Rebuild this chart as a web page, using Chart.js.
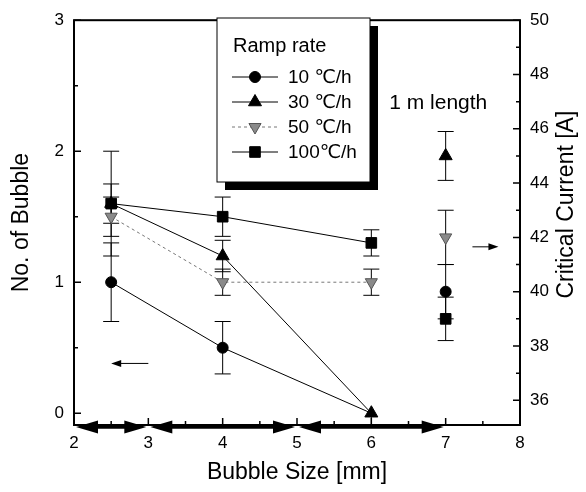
<!DOCTYPE html>
<html>
<head>
<meta charset="utf-8">
<script src="https://cdn.jsdelivr.net/npm/chart.js@4.4.0/dist/chart.umd.min.js"></script>
<style>
  html, body { margin: 0; background: #fff; }
  #wrap { width: 586px; height: 492px; }
</style>
</head>
<body>
<div id="wrap"><canvas id="chart"></canvas></div>
<script>
// bubble size vs number of bubbles (left axis)
const bubbleSize = [2.5, 4, 6];
const bubble10 = [1.0, 0.5, 0];
const bubble30 = [1.6, 1.2, 0];
const bubble50 = [1.5, 1.0, 1.0];
const bubble100 = [1.6, 1.5, 1.3];
const err10 = [0.3, 0.2, 0];
const err30 = [0.15, 0.12, 0];
const err50 = [0.15, 0.1, 0.1];
const err100 = [0.4, 0.15, 0.1];

// 1 m length sample, critical current (right axis), order 10/30/50/100
const lengthX = 7;
const current = [40, 45, 42, 39];
const currentErr = [1, 0.9, 1, 0.8];

const rampLabels = ['10 ℃/h', '30 ℃/h', '50 ℃/h', '100℃/h'];
const leftTicks = [0, 1, 2, 3];
const rightTicks = [36, 38, 40, 42, 44, 46, 48, 50];
const xTicks = [2, 3, 4, 5, 6, 7, 8];
const sizeRanges = [[2, 3], [3, 5], [5, 7]];

const FONT = "'Liberation Sans', Arial, 'DejaVu Sans', sans-serif";

// drawing order: lower = on top; the 10 ℃/h circle at 6 mm sits under the triangle
const styles = [
  { pointStyle: 'circle', radius: [5.5, 5.5, 0], rotation: 0, fill: '#000', border: '#000', line: '#000', dash: [], order: 3 },
  { pointStyle: 'triangle', radius: 7.5, rotation: 0, fill: '#000', border: '#000', line: '#000', dash: [], order: 1 },
  { pointStyle: 'triangle', radius: 7, rotation: 180, fill: '#8a8a8a', border: '#555', line: '#777', dash: [3, 3], order: 2 },
  { pointStyle: 'rect', radius: 7.5, rotation: 0, fill: '#000', border: '#000', line: '#000', dash: [], order: 0 }
];
const markerSize = s => Array.isArray(s.radius) ? s.radius[0] : s.radius;
const bubbleSets = [bubble10, bubble30, bubble50, bubble100];
const errSets = [err10, err30, err50, err100];

const datasets = [];
bubbleSets.forEach((vals, i) => {
  const s = styles[i];
  datasets.push({
    label: rampLabels[i],
    data: bubbleSize.map((x, k) => ({ x: x, y: vals[k] })),
    yAxisID: 'y',
    order: s.order,
    borderColor: s.line,
    borderWidth: 1,
    borderDash: s.dash,
    backgroundColor: s.fill,
    pointBackgroundColor: s.fill,
    pointBorderColor: s.border,
    pointBorderWidth: 1,
    pointStyle: s.pointStyle,
    pointRadius: s.radius,
    pointRotation: s.rotation,
    tension: 0,
    err: errSets[i]
  });
});
current.forEach((v, i) => {
  const s = styles[i];
  datasets.push({
    label: rampLabels[i] + ' (1 m)',
    data: [{ x: lengthX, y: v }],
    yAxisID: 'y2',
    order: s.order,
    showLine: false,
    backgroundColor: s.fill,
    pointBackgroundColor: s.fill,
    pointBorderColor: s.border,
    pointBorderWidth: 1,
    pointStyle: s.pointStyle,
    pointRadius: markerSize(s),
    pointRotation: s.rotation,
    err: [currentErr[i]]
  });
});

function arrowHead(ctx, x, y, dir, len, half) {
  ctx.beginPath();
  ctx.moveTo(x, y);
  ctx.lineTo(x - dir * len, y - half);
  ctx.lineTo(x - dir * len, y + half);
  ctx.closePath();
  ctx.fill();
}

const errorBars = {
  id: 'errorBars',
  beforeDatasetsDraw(chart) {
    const ctx = chart.ctx;
    ctx.save();
    ctx.strokeStyle = '#000';
    ctx.lineWidth = 1;
    chart.data.datasets.forEach(ds => {
      const xs = chart.scales.x, ys = chart.scales[ds.yAxisID];
      ds.data.forEach((p, k) => {
        const e = ds.err[k];
        if (!e) return;
        const px = xs.getPixelForValue(p.x);
        const top = ys.getPixelForValue(p.y + e);
        const bot = ys.getPixelForValue(p.y - e);
        ctx.beginPath();
        ctx.moveTo(px, top); ctx.lineTo(px, bot);
        ctx.moveTo(px - 8, top); ctx.lineTo(px + 8, top);
        ctx.moveTo(px - 8, bot); ctx.lineTo(px + 8, bot);
        ctx.stroke();
      });
    });
    ctx.restore();
  }
};

const decorations = {
  id: 'decorations',
  afterDraw(chart) {
    const ctx = chart.ctx;
    const a = chart.chartArea;
    const xs = chart.scales.x, yl = chart.scales.y, yr = chart.scales.y2;
    ctx.save();

    // frame
    ctx.strokeStyle = '#000';
    ctx.lineWidth = 2;
    ctx.strokeRect(a.left, a.top, a.right - a.left, a.bottom - a.top);

    // inside ticks
    ctx.lineWidth = 1.5;
    ctx.beginPath();
    for (let v = 2; v <= 8.001; v += 0.5) {
      const px = xs.getPixelForValue(v);
      const len = Number.isInteger(v) ? 7 : 4;
      ctx.moveTo(px, a.bottom); ctx.lineTo(px, a.bottom - len);
    }
    for (let v = 0; v <= 3.001; v += 0.5) {
      const py = yl.getPixelForValue(v);
      const len = Number.isInteger(v) ? 7 : 4;
      ctx.moveTo(a.left, py); ctx.lineTo(a.left + len, py);
    }
    for (let v = 36; v <= 50; v += 1) {
      const py = yr.getPixelForValue(v);
      const len = v % 2 === 0 ? 7 : 4;
      ctx.moveTo(a.right, py); ctx.lineTo(a.right - len, py);
    }
    ctx.stroke();

    // bubble size ranges along the x axis
    ctx.fillStyle = '#000';
    ctx.lineWidth = 3.5;
    const ay = a.bottom + 2;
    sizeRanges.forEach(r => {
      const x0 = xs.getPixelForValue(r[0]) + 2;
      const x1 = xs.getPixelForValue(r[1]) - 2;
      ctx.beginPath();
      ctx.moveTo(x0 + 10, ay); ctx.lineTo(x1 - 10, ay);
      ctx.stroke();
      arrowHead(ctx, x0, ay, -1, 22, 6.5);
      arrowHead(ctx, x1, ay, 1, 22, 6.5);
    });

    // stem under the 30 ℃/h triangle at 6 mm
    ctx.lineWidth = 1;
    const sx = xs.getPixelForValue(bubbleSize[2]);
    ctx.beginPath(); ctx.moveTo(sx, yl.getPixelForValue(bubble30[2])); ctx.lineTo(sx, a.bottom); ctx.stroke();

    // axis pointers
    const ly = yl.getPixelForValue(0.38);
    let x0 = xs.getPixelForValue(3.0), x1 = xs.getPixelForValue(2.5);
    ctx.beginPath(); ctx.moveTo(x0, ly); ctx.lineTo(x1 + 6, ly); ctx.stroke();
    arrowHead(ctx, x1, ly, -1, 10, 3.5);
    const ry = yl.getPixelForValue(1.27);
    x0 = xs.getPixelForValue(7.36); x1 = xs.getPixelForValue(7.71);
    ctx.beginPath(); ctx.moveTo(x0, ry); ctx.lineTo(x1 - 6, ry); ctx.stroke();
    arrowHead(ctx, x1, ry, 1, 10, 3.5);

    // annotation
    ctx.font = '21px ' + FONT;
    ctx.textAlign = 'center';
    ctx.textBaseline = 'middle';
    ctx.fillText('1 m length', xs.getPixelForValue(6.9), yl.getPixelForValue(2.37));

    // right axis title
    ctx.save();
    ctx.translate(567, (a.top + a.bottom) / 2 - 18);
    ctx.rotate(-Math.PI / 2);
    ctx.font = '23px ' + FONT;
    ctx.fillText('Critical Current [A]', 0, 0);
    ctx.restore();

    // legend box with shadow
    const bx = 217, by = 18, bw = 153, bh = 164, sh = 8;
    ctx.fillRect(bx + sh, by + sh, bw, bh);
    ctx.fillStyle = '#fff';
    ctx.fillRect(bx, by, bw, bh);
    ctx.strokeStyle = '#000';
    ctx.lineWidth = 1;
    ctx.strokeRect(bx, by, bw, bh);

    ctx.fillStyle = '#000';
    ctx.textAlign = 'left';
    ctx.font = '20px ' + FONT;
    ctx.fillText('Ramp rate', bx + 16, by + 28);
    ctx.font = '19px ' + FONT;
    rampLabels.forEach((lab, i) => {
      const s = styles[i];
      const y = by + 59 + i * 25;
      ctx.strokeStyle = s.line;
      ctx.setLineDash(s.dash);
      ctx.beginPath(); ctx.moveTo(bx + 15, y); ctx.lineTo(bx + 61, y); ctx.stroke();
      ctx.setLineDash([]);
      ctx.fillStyle = s.fill;
      ctx.strokeStyle = s.border;
      Chart.helpers.drawPoint(ctx, { pointStyle: s.pointStyle, radius: markerSize(s), rotation: s.rotation, borderWidth: 1 }, bx + 38, y);
      ctx.fillStyle = '#000';
      ctx.fillText(lab, bx + 71, y + 1);
    });
    ctx.restore();
  }
};

new Chart(document.getElementById('chart'), {
  type: 'line',
  data: { datasets: datasets },
  options: {
    responsive: true,
    maintainAspectRatio: false,
    animation: false,
    layout: { padding: { top: 15 } },
    plugins: { legend: { display: false }, tooltip: { enabled: false } },
    scales: {
      x: {
        type: 'linear', min: 2, max: 8,
        afterBuildTicks: s => { s.ticks = xTicks.map(v => ({ value: v })); },
        afterFit: s => { s.height = 67; },
        grid: { display: false, drawTicks: false },
        border: { display: false },
        ticks: { color: '#000', padding: 8, font: { size: 17, family: FONT } },
        title: { display: true, text: 'Bubble Size [mm]', color: '#000', padding: { top: 0, bottom: 6 }, font: { size: 23, family: FONT } }
      },
      y: {
        position: 'left', min: -0.09, max: 3,
        afterBuildTicks: s => { s.ticks = leftTicks.map(v => ({ value: v })); },
        afterFit: s => { s.width = 74; },
        grid: { display: false, drawTicks: false },
        border: { display: false },
        ticks: { color: '#000', padding: 10, font: { size: 17, family: FONT } },
        title: { display: true, text: 'No. of Bubble', color: '#000', padding: { top: 8, bottom: 0 }, font: { size: 23, family: FONT } }
      },
      y2: {
        position: 'right', min: 35.09, max: 50,
        afterBuildTicks: s => { s.ticks = rightTicks.map(v => ({ value: v })); },
        afterFit: s => { s.width = 66; },
        grid: { display: false, drawTicks: false },
        border: { display: false },
        ticks: { color: '#000', padding: 10, font: { size: 17, family: FONT } }
      }
    }
  },
  plugins: [errorBars, decorations]
});
</script>
</body>
</html>
